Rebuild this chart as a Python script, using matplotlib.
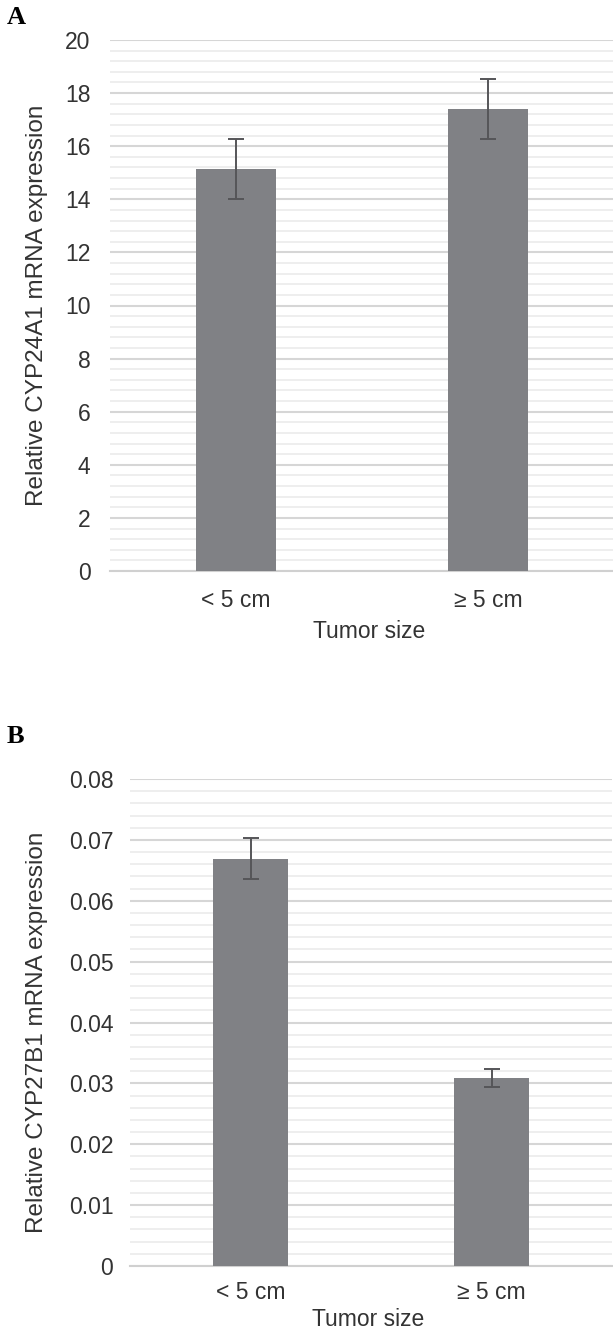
import matplotlib.pyplot as plt
from matplotlib.ticker import MultipleLocator

# Data
categories = ['< 5 cm', '\u2265 5 cm']
cyp24a1_mean = [15.15, 17.4]
cyp24a1_err = [1.13, 1.13]
cyp27b1_mean = [0.0669, 0.0309]
cyp27b1_err = [0.0034, 0.0015]

plt.rcParams['font.family'] = ['Liberation Sans', 'DejaVu Sans']
txt = '#333333'
bar_col = '#808185'
err_col = '#555558'

W, H = 613, 1333
fig = plt.figure(figsize=(W / 100, H / 100), dpi=100)


def panel(rect, means, errs, ymax, major, minor, fmt, ylabel, width,
          letter, lpos, ypad, xpad, xlab_pos, ylab_pos):
    ax = fig.add_axes(rect)
    x = range(len(categories))
    ax.bar(x, means, width=width, color=bar_col, zorder=3,
           yerr=errs, error_kw=dict(ecolor=err_col, elinewidth=1.4, capsize=6, capthick=1.4))
    ax.set_xlim(-0.5, 1.5)
    ax.set_ylim(0, ymax)
    ax.yaxis.set_major_locator(MultipleLocator(major))
    ax.yaxis.set_minor_locator(MultipleLocator(minor))
    ax.yaxis.set_major_formatter(fmt)
    ax.grid(axis='y', which='major', color='#d6d6d6', lw=1.5, zorder=0)
    ax.grid(axis='y', which='minor', color='#ebebeb', lw=1.2, zorder=0)
    for s in ['top', 'right', 'left']:
        ax.spines[s].set_visible(False)
    ax.spines['bottom'].set_color('#d0d0d0')
    ax.spines['bottom'].set_linewidth(1.5)
    ax.tick_params(which='both', length=0, colors=txt)
    ax.tick_params(axis='y', labelsize=16.5, pad=ypad)
    ax.tick_params(axis='x', labelsize=16.5, pad=xpad)
    ax.set_xticks(list(x))
    ax.set_xticklabels(categories)
    ax.set_ylabel(ylabel, fontsize=17.5, color=txt, va='center')
    ax.yaxis.set_label_coords(*ylab_pos)
    ax.set_xlabel('Tumor size', fontsize=16.5, color=txt, va='center')
    ax.xaxis.set_label_coords(*xlab_pos)
    fig.text(lpos[0] / W, 1 - lpos[1] / H, letter, fontsize=19, fontweight='bold',
             family='Liberation Serif', va='top', ha='left')
    return ax


panel([110 / W, (H - 571) / H, 504 / W, 531 / H], cyp24a1_mean, cyp24a1_err,
      20, 2, 0.4, lambda v, p: f'{v:.0f}', 'Relative CYP24A1 mRNA expression',
      0.317, 'A', (7, 6), 14, 13, (0.514, -61 / 531), (-73 / 504, 0.5))

panel([130 / W, (H - 1266) / H, 482 / W, 487 / H], cyp27b1_mean, cyp27b1_err,
      0.08, 0.01, 0.002, lambda v, p: '0' if v == 0 else f'{v:.2f}',
      'Relative CYP27B1 mRNA expression', 0.31, 'B', (7, 725), 12, 11,
      (0.495, -53 / 487), (-93 / 482, 0.48))

fig.savefig('out.png', dpi=100)
